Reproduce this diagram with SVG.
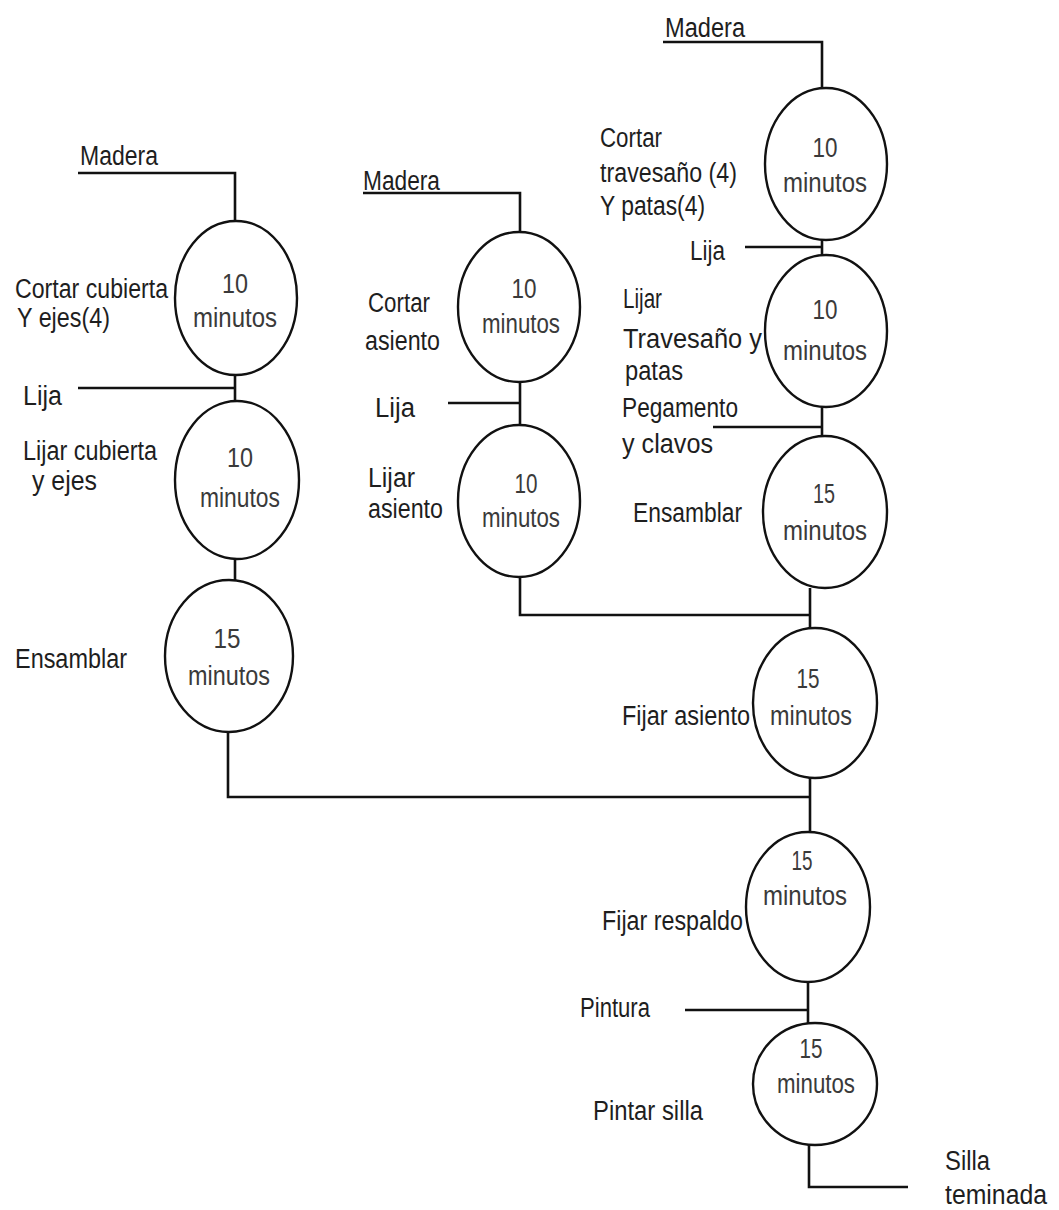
<svg xmlns="http://www.w3.org/2000/svg" width="1059" height="1210" viewBox="0 0 1059 1210">
  <style>
    .op { fill: #ffffff; stroke: #111111; stroke-width: 2.4; }
    .wire { fill: none; stroke: #111111; stroke-width: 2.6; }
    text { font-family: "Liberation Sans", Arial, sans-serif; font-size: 27px; fill: #1e1e1e; }
    .t { fill: #3a3a3a; text-anchor: middle; }
  </style>

  <rect width="1059" height="1210" fill="#ffffff"/>

  <!-- flow lines between operations and material inputs -->
  <g id="connectors">
    <path class="wire" d="M78 173 H235 V221"/>
    <path class="wire" d="M235 375 V401"/>
    <path class="wire" d="M78 388 H235"/>
    <path class="wire" d="M235 559 V580"/>
    <path class="wire" d="M228 732 V797 H810"/>

    <path class="wire" d="M363 193 H520 V232"/>
    <path class="wire" d="M520 382 V425"/>
    <path class="wire" d="M448 403 H520"/>
    <path class="wire" d="M520 577 V615 H810"/>

    <path class="wire" d="M663 42 H822 V88"/>
    <path class="wire" d="M822 240 V255"/>
    <path class="wire" d="M745 247 H822"/>
    <path class="wire" d="M822 407 V437"/>
    <path class="wire" d="M713 427 H822"/>
    <path class="wire" d="M810 588 V628"/>
    <path class="wire" d="M810 778 V832"/>
    <path class="wire" d="M808 982 V1023"/>
    <path class="wire" d="M685 1010 H808"/>
    <path class="wire" d="M809 1145 V1187 H908"/>
  </g>

  <!-- material inputs and final product -->
  <g id="inputs">
    <text x="80" y="165" textLength="78" lengthAdjust="spacingAndGlyphs">Madera</text>
    <text x="23" y="405" textLength="39" lengthAdjust="spacingAndGlyphs">Lija</text>
    <text x="363" y="190" textLength="77" lengthAdjust="spacingAndGlyphs">Madera</text>
    <text x="375" y="417" textLength="40" lengthAdjust="spacingAndGlyphs">Lija</text>
    <text x="665" y="37" textLength="80" lengthAdjust="spacingAndGlyphs">Madera</text>
    <text x="690" y="260" textLength="35" lengthAdjust="spacingAndGlyphs">Lija</text>
    <text x="622" y="417" textLength="116" lengthAdjust="spacingAndGlyphs">Pegamento</text>
    <text x="622" y="453" textLength="91" lengthAdjust="spacingAndGlyphs">y clavos</text>
    <text x="580" y="1017" textLength="70" lengthAdjust="spacingAndGlyphs">Pintura</text>
    <text x="945" y="1170" textLength="45" lengthAdjust="spacingAndGlyphs">Silla</text>
    <text x="945" y="1204" textLength="102" lengthAdjust="spacingAndGlyphs">teminada</text>
  </g>

  <!-- left branch: cubierta y ejes -->
  <g id="cortar-cubierta">
    <ellipse class="op" cx="236" cy="298" rx="61" ry="77"/>
    <text class="t" x="235" y="293" textLength="26" lengthAdjust="spacingAndGlyphs">10</text>
    <text class="t" x="235" y="327" textLength="84" lengthAdjust="spacingAndGlyphs">minutos</text>
    <text x="15" y="298" textLength="153" lengthAdjust="spacingAndGlyphs">Cortar cubierta</text>
    <text x="17" y="327" textLength="93" lengthAdjust="spacingAndGlyphs">Y ejes(4)</text>
  </g>
  <g id="lijar-cubierta">
    <ellipse class="op" cx="237" cy="480" rx="62" ry="79"/>
    <text class="t" x="240" y="467" textLength="26" lengthAdjust="spacingAndGlyphs">10</text>
    <text class="t" x="240" y="507" textLength="80" lengthAdjust="spacingAndGlyphs">minutos</text>
    <text x="23" y="460" textLength="134" lengthAdjust="spacingAndGlyphs">Lijar cubierta</text>
    <text x="32" y="490" textLength="65" lengthAdjust="spacingAndGlyphs">y ejes</text>
  </g>
  <g id="ensamblar-cubierta">
    <ellipse class="op" cx="229" cy="656" rx="64" ry="76"/>
    <text class="t" x="227" y="648" textLength="27" lengthAdjust="spacingAndGlyphs">15</text>
    <text class="t" x="229" y="685" textLength="82" lengthAdjust="spacingAndGlyphs">minutos</text>
    <text x="15" y="668" textLength="112" lengthAdjust="spacingAndGlyphs">Ensamblar</text>
  </g>

  <!-- middle branch: asiento -->
  <g id="cortar-asiento">
    <ellipse class="op" cx="519" cy="307" rx="61" ry="75"/>
    <text class="t" x="524" y="298" textLength="25" lengthAdjust="spacingAndGlyphs">10</text>
    <text class="t" x="521" y="333" textLength="78" lengthAdjust="spacingAndGlyphs">minutos</text>
    <text x="368" y="312" textLength="62" lengthAdjust="spacingAndGlyphs">Cortar</text>
    <text x="365" y="350" textLength="75" lengthAdjust="spacingAndGlyphs">asiento</text>
  </g>
  <g id="lijar-asiento">
    <ellipse class="op" cx="519" cy="501" rx="61" ry="76"/>
    <text class="t" x="526" y="493" textLength="23" lengthAdjust="spacingAndGlyphs">10</text>
    <text class="t" x="521" y="527" textLength="78" lengthAdjust="spacingAndGlyphs">minutos</text>
    <text x="368" y="487" textLength="47" lengthAdjust="spacingAndGlyphs">Lijar</text>
    <text x="368" y="518" textLength="75" lengthAdjust="spacingAndGlyphs">asiento</text>
  </g>

  <!-- right branch: travesaños y patas -->
  <g id="cortar-travesano">
    <ellipse class="op" cx="826" cy="164" rx="61" ry="76"/>
    <text class="t" x="825" y="157" textLength="25" lengthAdjust="spacingAndGlyphs">10</text>
    <text class="t" x="825" y="192" textLength="84" lengthAdjust="spacingAndGlyphs">minutos</text>
    <text x="600" y="147" textLength="62" lengthAdjust="spacingAndGlyphs">Cortar</text>
    <text x="600" y="182" textLength="137" lengthAdjust="spacingAndGlyphs">travesaño (4)</text>
    <text x="600" y="215" textLength="105" lengthAdjust="spacingAndGlyphs">Y patas(4)</text>
  </g>
  <g id="lijar-travesano">
    <ellipse class="op" cx="826" cy="331" rx="61" ry="76"/>
    <text class="t" x="825" y="319" textLength="25" lengthAdjust="spacingAndGlyphs">10</text>
    <text class="t" x="825" y="360" textLength="84" lengthAdjust="spacingAndGlyphs">minutos</text>
    <text x="623" y="308" textLength="39" lengthAdjust="spacingAndGlyphs">Lijar</text>
    <text x="623" y="348" textLength="139" lengthAdjust="spacingAndGlyphs">Travesaño  y</text>
    <text x="625" y="380" textLength="58" lengthAdjust="spacingAndGlyphs">patas</text>
  </g>
  <g id="ensamblar-base">
    <ellipse class="op" cx="825" cy="512" rx="62" ry="76"/>
    <text class="t" x="824" y="503" textLength="22" lengthAdjust="spacingAndGlyphs">15</text>
    <text class="t" x="825" y="540" textLength="84" lengthAdjust="spacingAndGlyphs">minutos</text>
    <text x="633" y="522" textLength="109" lengthAdjust="spacingAndGlyphs">Ensamblar</text>
  </g>

  <!-- final assembly -->
  <g id="fijar-asiento">
    <ellipse class="op" cx="815" cy="703" rx="62" ry="75"/>
    <text class="t" x="808" y="688" textLength="23" lengthAdjust="spacingAndGlyphs">15</text>
    <text class="t" x="811" y="725" textLength="82" lengthAdjust="spacingAndGlyphs">minutos</text>
    <text x="622" y="725" textLength="128" lengthAdjust="spacingAndGlyphs">Fijar asiento</text>
  </g>
  <g id="fijar-respaldo">
    <ellipse class="op" cx="808" cy="907" rx="62" ry="75"/>
    <text class="t" x="802" y="870" textLength="21" lengthAdjust="spacingAndGlyphs">15</text>
    <text class="t" x="805" y="905" textLength="84" lengthAdjust="spacingAndGlyphs">minutos</text>
    <text x="602" y="930" textLength="141" lengthAdjust="spacingAndGlyphs">Fijar respaldo</text>
  </g>
  <g id="pintar-silla">
    <ellipse class="op" cx="815" cy="1084" rx="62" ry="61"/>
    <text class="t" x="811" y="1058" textLength="23" lengthAdjust="spacingAndGlyphs">15</text>
    <text class="t" x="816" y="1093" textLength="78" lengthAdjust="spacingAndGlyphs">minutos</text>
    <text x="593" y="1120" textLength="110" lengthAdjust="spacingAndGlyphs">Pintar silla</text>
  </g>
</svg>
